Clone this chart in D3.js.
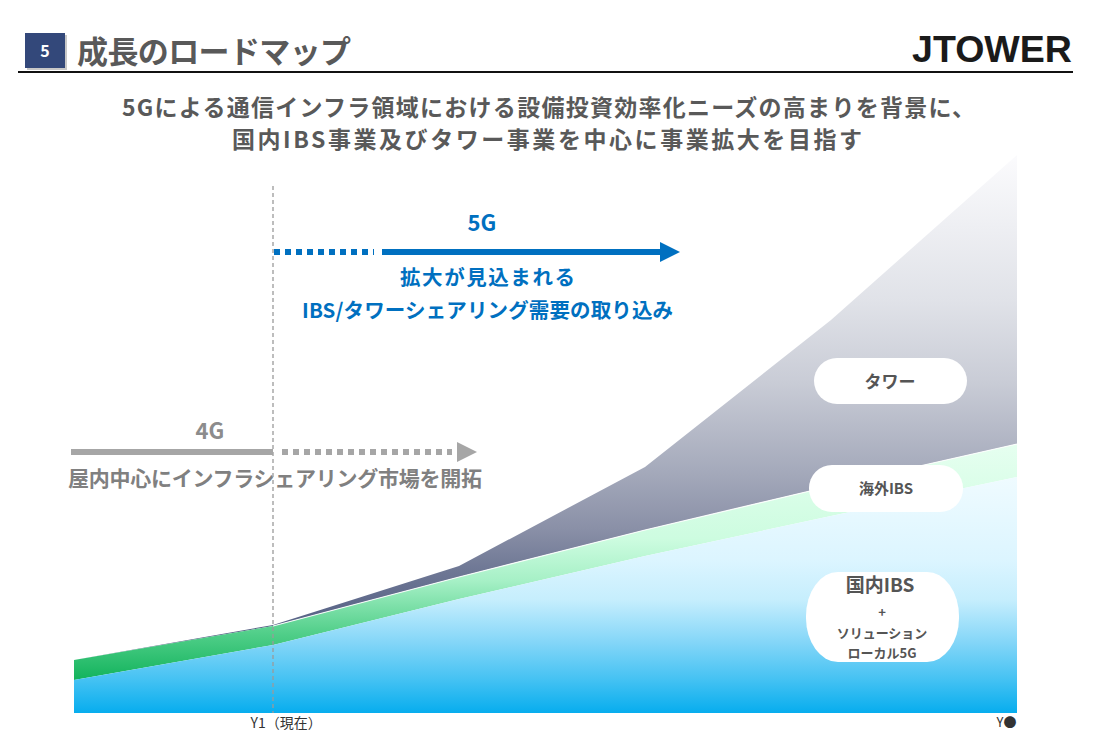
<!DOCTYPE html>
<html><head><meta charset="utf-8">
<script src="https://cdn.jsdelivr.net/npm/d3@7"></script>
<style>
html,body{margin:0;padding:0;background:#fff;}
svg{display:block;font-family:"Noto Sans CJK JP","Noto Sans",sans-serif;}
</style></head>
<body>
<script>
// ---- data ----
const periods = ["Y0", "Y1", "Y2", "Y3", "Y4", "Y●"];
const periodPos = [0, 1, 2, 3, 4, 5];
const domesticIBS = [33, 68, 114, 157, 197, 236];   // 国内IBS + ソリューション・ローカル5G
const overseasIBS = [20, 19, 22, 26, 30, 33];       // 海外IBS
const tower = [0, 1, 11, 63, 166, 289];            // タワー
const tickPos = [1, 5];
const tickLabels = ["Y1（現在）", "Y●"];

const W = 1099, H = 733;
const svg = d3.select("body").append("svg").attr("width", W).attr("height", H);
const defs = svg.append("defs");

function grad(id, stops) {
  const g = defs.append("linearGradient").attr("id", id)
    .attr("x1", 0).attr("y1", 0).attr("x2", 0).attr("y2", 1);
  stops.forEach(s => g.append("stop").attr("offset", s[0]).attr("stop-color", s[1]));
}
grad("gTower", [[0, "#fbfbfd"], [0.29, "#e0e2e8"], [0.45, "#c9ccd6"], [0.62, "#a6abbc"], [0.74, "#8a90a7"], [0.82, "#6f7895"], [0.9, "#5c6789"], [1, "#4f5b80"]]);
grad("gOver", [[0, "#e6fff0"], [0.4, "#cdfce0"], [0.58, "#a6f0c6"], [0.8, "#52cf8a"], [1, "#12b35c"]]);
grad("gDom", [[0, "#effbff"], [0.35, "#dcf5ff"], [0.52, "#c6eefd"], [0.7, "#84d6f8"], [0.85, "#48c3f3"], [1, "#07adee"]]);

// ---- scales ----
const x = d3.scaleLinear().domain([0, 1, 5]).range([74, 273, 1017]);
const y = d3.scaleLinear().domain([0, 560]).range([713, 153]);

const rows = periodPos.map((p, i) => ({ p, dom: domesticIBS[i], over: overseasIBS[i], tower: tower[i] }));
const stack = d3.stack().keys(["dom", "over", "tower"]);
const series = stack(rows);
const area = d3.area().x(d => x(d.data.p)).y0(d => y(d[0])).y1(d => y(d[1]));
const fills = { dom: "url(#gDom)", over: "url(#gOver)", tower: "url(#gTower)" };

const chart = svg.append("g");
series.slice().reverse().forEach(s => {
  chart.append("path").datum(s).attr("d", area).attr("fill", fills[s.key]);
});
// thin white separation line between tower and overseas IBS
const line = d3.line().x(d => x(d.data.p)).y(d => y(d[1]));
chart.append("path").datum(series[1].slice(1)).attr("d", line)
  .attr("fill", "none").attr("stroke", "#fff").attr("stroke-width", 1.2).attr("opacity", 0.9);

// ---- dashed current line ----
svg.append("line").attr("x1", x(1)).attr("x2", x(1)).attr("y1", 186).attr("y2", 713)
  .attr("stroke", "#9a9a9a").attr("stroke-width", 1.3).attr("stroke-dasharray", "4,3");

// ---- axis labels ----
const axis = d3.axisBottom(x).tickValues(tickPos).tickSize(0)
  .tickFormat((d, i) => tickLabels[i]);
const ax = svg.append("g").attr("transform", "translate(0,713)").call(axis);
ax.select(".domain").remove();
ax.selectAll("text").attr("font-size", (d, i) => i === 0 ? 14 : 13).attr("fill", "#333")
  .attr("font-family", "'Noto Sans CJK JP',sans-serif").attr("dy", "0.85em")
  .attr("text-anchor", (d, i) => i === 0 ? "start" : "end")
  .attr("dx", (d, i) => i === 0 ? -23 : -1);

// ---- header ----
svg.append("rect").attr("x", 27).attr("y", 35).attr("width", 40).attr("height", 35).attr("fill", "#c8c8c8");
svg.append("rect").attr("x", 25).attr("y", 33).attr("width", 40).attr("height", 35).attr("fill", "#33487a");
svg.append("text").attr("x", 45).attr("y", 57).attr("text-anchor", "middle").attr("fill", "#fff")
  .attr("font-size", 16).attr("font-weight", 700).text("5");
svg.append("text").attr("x", 77).attr("y", 63).attr("fill", "#595959")
  .attr("font-size", 31).attr("font-weight", 700).attr("textLength", 274).text("成長のロードマップ");
svg.append("text").attr("x", 912).attr("y", 62).attr("fill", "#1a1a1a")
  .attr("font-family", "'Liberation Sans',Arial,sans-serif").attr("font-size", 37).attr("font-weight", 700)
  .attr("textLength", 160).attr("lengthAdjust", "spacingAndGlyphs").text("JTOWER");
svg.append("line").attr("x1", 18).attr("x2", 1073).attr("y1", 72).attr("y2", 72)
  .attr("stroke", "#111").attr("stroke-width", 2);

svg.append("text").attr("x", 122).attr("y", 116).attr("fill", "#595959")
  .attr("font-size", 23).attr("font-weight", 700).attr("textLength", 853)
  .text("5Gによる通信インフラ領域における設備投資効率化ニーズの高まりを背景に、");
svg.append("text").attr("x", 232).attr("y", 148).attr("fill", "#595959")
  .attr("font-size", 23).attr("font-weight", 700).attr("textLength", 630)
  .text("国内IBS事業及びタワー事業を中心に事業拡大を目指す");

// ---- 5G arrow ----
const blue = "#0070c0";
svg.append("text").attr("x", 482).attr("y", 231).attr("text-anchor", "middle").attr("fill", blue)
  .attr("font-size", 22).attr("font-weight", 700).text("5G");
svg.append("line").attr("x1", 274).attr("x2", 374).attr("y1", 252).attr("y2", 252)
  .attr("stroke", blue).attr("stroke-width", 6).attr("stroke-dasharray", "6,5");
svg.append("line").attr("x1", 382).attr("x2", 662).attr("y1", 252).attr("y2", 252)
  .attr("stroke", blue).attr("stroke-width", 6);
svg.append("path").attr("d", "M660,242 L680,252 L660,262 Z").attr("fill", blue);
svg.append("text").attr("x", 400).attr("y", 285).attr("fill", blue)
  .attr("font-size", 20.5).attr("font-weight", 700).attr("textLength", 175).text("拡大が見込まれる");
svg.append("text").attr("x", 302).attr("y", 318).attr("fill", blue)
  .attr("font-size", 20.5).attr("font-weight", 700).attr("textLength", 371).text("IBS/タワーシェアリング需要の取り込み");

// ---- 4G arrow ----
const grey = "#a6a6a6";
svg.append("text").attr("x", 210).attr("y", 439).attr("text-anchor", "middle").attr("fill", "#8c8c8c")
  .attr("font-size", 22).attr("font-weight", 700).text("4G");
svg.append("line").attr("x1", 71).attr("x2", 273).attr("y1", 452).attr("y2", 452)
  .attr("stroke", grey).attr("stroke-width", 6);
svg.append("line").attr("x1", 282).attr("x2", 452).attr("y1", 452).attr("y2", 452)
  .attr("stroke", grey).attr("stroke-width", 6).attr("stroke-dasharray", "6,5");
svg.append("path").attr("d", "M457,442 L477,452 L457,462 Z").attr("fill", grey);
svg.append("text").attr("x", 68).attr("y", 486).attr("fill", "#808080")
  .attr("font-size", 21).attr("font-weight", 700).attr("textLength", 414).text("屋内中心にインフラシェアリング市場を開拓");

// ---- pills ----
function pill(x0, y0, w, h, r) {
  svg.append("rect").attr("x", x0).attr("y", y0).attr("width", w).attr("height", h)
    .attr("rx", r).attr("ry", r).attr("fill", "#fff");
}
pill(814, 358, 153, 46, 23);
svg.append("text").attr("x", 890).attr("y", 388).attr("text-anchor", "middle").attr("fill", "#555")
  .attr("font-size", 17).attr("font-weight", 700).text("タワー");
pill(809, 465, 154, 47, 23);
svg.append("text").attr("x", 886).attr("y", 494).attr("text-anchor", "middle").attr("fill", "#555")
  .attr("font-size", 15).attr("font-weight", 700).text("海外IBS");
svg.append("rect").attr("x", 806).attr("y", 572).attr("width", 153).attr("height", 90)
  .attr("rx", 32).attr("ry", 44).attr("fill", "#fff");
svg.append("text").attr("x", 880).attr("y", 592).attr("text-anchor", "middle").attr("fill", "#555")
  .attr("font-size", 19).attr("font-weight", 700).text("国内IBS");
svg.append("text").attr("x", 882).attr("y", 617).attr("text-anchor", "middle").attr("fill", "#555")
  .attr("font-size", 13).attr("font-weight", 700).text("+");
svg.append("text").attr("x", 882).attr("y", 638).attr("text-anchor", "middle").attr("fill", "#555")
  .attr("font-size", 13).attr("font-weight", 700).text("ソリューション");
svg.append("text").attr("x", 882).attr("y", 658).attr("text-anchor", "middle").attr("fill", "#555")
  .attr("font-size", 13).attr("font-weight", 700).text("ローカル5G");
</script>
</body></html>
